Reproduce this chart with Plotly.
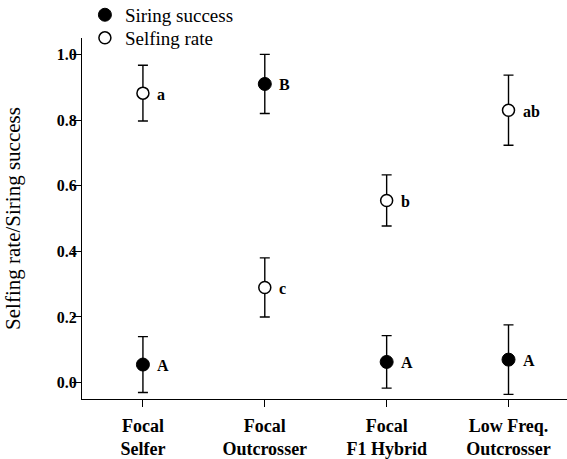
import plotly.graph_objects as go

categories = ["Focal<br>Selfer", "Focal<br>Outcrosser", "Focal<br>F1 Hybrid", "Low Freq.<br>Outcrosser"]
siring_mean = [0.055, 0.91, 0.063, 0.07]
siring_err = [0.085, 0.09, 0.08, 0.106]
siring_labels = ["A", "B", "A", "A"]
selfing_mean = [0.882, 0.29, 0.555, 0.83]
selfing_err = [0.085, 0.09, 0.078, 0.107]
selfing_labels = ["a", "c", "b", "ab"]

FONT = "'Times New Roman', 'Liberation Serif', 'DejaVu Serif', serif"
xs = list(range(len(categories)))

fig = go.Figure()
fig.add_trace(go.Scatter(
    x=xs, y=siring_mean, mode="markers", name="Siring success", legend="legend",
    marker=dict(symbol="circle", size=13, color="black", line=dict(color="black", width=1)),
    error_y=dict(type="data", array=siring_err, visible=True, color="black", thickness=1.4, width=5),
))
fig.add_trace(go.Scatter(
    x=xs, y=selfing_mean, mode="markers", name="Selfing rate", legend="legend2",
    marker=dict(symbol="circle", size=12, color="white", line=dict(color="black", width=1.5)),
    error_y=dict(type="data", array=selfing_err, visible=True, color="black", thickness=1.4, width=5),
))

for xv, yv, lab in list(zip(xs, siring_mean, siring_labels)) + list(zip(xs, selfing_mean, selfing_labels)):
    fig.add_annotation(x=xv, y=yv, xref="x", yref="y", text=lab, showarrow=False,
                       xanchor="left", xshift=12, yshift=-1,
                       font=dict(family=FONT, size=16, color="black", weight="bold"))

legend_style = dict(xanchor="left", yanchor="middle",
                    font=dict(family=FONT, size=19, color="black"),
                    bgcolor="rgba(0,0,0,0)", itemwidth=30)

fig.update_layout(
    width=567, height=459,
    margin=dict(l=82, r=0, t=38, b=60, autoexpand=False),
    paper_bgcolor="white", plot_bgcolor="white",
    font=dict(family=FONT, color="black"),
    showlegend=True,
    legend=dict(x=0.006, y=1.064, **legend_style),
    legend2=dict(x=0.006, y=1.0, **legend_style),
    xaxis=dict(range=[-0.5, 3.48], tickmode="array", tickvals=xs, ticktext=categories,
               showline=True, linecolor="black", linewidth=1.3, ticks="outside",
               ticklen=7, tickcolor="black", tickwidth=1.3, showgrid=False, zeroline=False,
               automargin=False, ticklabelstandoff=3,
               tickfont=dict(family=FONT, size=18, color="black", weight="bold")),
    yaxis=dict(range=[-0.05, 1.05], tickvals=[0, 0.2, 0.4, 0.6, 0.8, 1.0], tickformat=".1f",
               showline=True, linecolor="black", linewidth=1.3, ticks="outside",
               ticklen=9, tickcolor="black", tickwidth=1.3, showgrid=False, zeroline=False,
               automargin=False, ticklabelstandoff=-8,
               tickfont=dict(family=FONT, size=16, color="black", weight="bold"),
               title=dict(text="Selfing rate/Siring success", standoff=30,
                          font=dict(family=FONT, size=21, color="black"))),
)

fig.write_html("out.html", config={"displayModeBar": False},
               post_script="document.body.style.margin='0';")
